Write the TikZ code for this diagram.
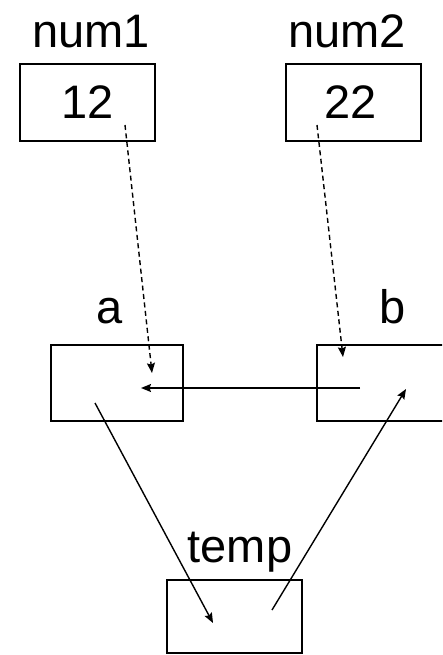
\documentclass[tikz,border=0pt]{standalone}
\usepackage{fontspec}
\setmainfont{Liberation Sans}
\usetikzlibrary{arrows.meta}
\begin{document}
\begin{tikzpicture}[x=1pt,y=-1pt,
  varbox/.style={draw,line width=1.8pt,inner sep=0pt,outer sep=0pt},
  lbl/.style={anchor=base,inner sep=0pt,font=\fontsize{47}{50}\selectfont},
  conn/.style={line width=1.4pt,-{Stealth[length=10pt,width=8pt,inset=1.5pt]}},
  copyconn/.style={conn,dash pattern=on 5pt off 3.5pt}]
\clip (0,0) rectangle (442,655);
\fill[white] (0,0) rectangle (442,655);
% boxes
\node[varbox,minimum width=135pt,minimum height=77pt] (n1box) at (87.5,102.5) {};
\node[varbox,minimum width=135pt,minimum height=77pt] (n2box) at (353.5,102.5) {};
\node[varbox,minimum width=132pt,minimum height=76pt] (abox) at (117,383) {};
\node[varbox,minimum width=135pt,minimum height=76pt] (bbox) at (384.5,383) {};
\node[varbox,minimum width=135pt,minimum height=73pt] (tbox) at (234.5,616.5) {};
% labels
\node[lbl] (n1lbl) at (91,48) {num1};
\node[lbl] (n2lbl) at (347,48) {num2};
\node[lbl] (v1) at (88,119) {12};
\node[lbl] (v2) at (351,119) {22};
\node[lbl] (albl) at (110,323) {a};
\node[lbl] (blbl) at (393,323) {b};
\node[lbl] (tlbl) at (240,562) {temp};
% connector endpoints
\coordinate (s1) at (125,125);
\coordinate (e1) at (152,373);
\coordinate (s2) at (317,125);
\coordinate (e2) at (343,357);
\coordinate (sb) at (360,388);
\coordinate (ea) at (141,388);
\coordinate (sa) at (95,403);
\coordinate (et) at (213,623);
\coordinate (st) at (272,610);
\coordinate (eb) at (406,389);
% connectors
\draw[copyconn] (s1) -- (e1);
\draw[copyconn] (s2) -- (e2);
\draw[conn] (sb) -- (ea);
\draw[conn] (sa) -- (et);
\draw[conn] (st) -- (eb);
\end{tikzpicture}
\end{document}
